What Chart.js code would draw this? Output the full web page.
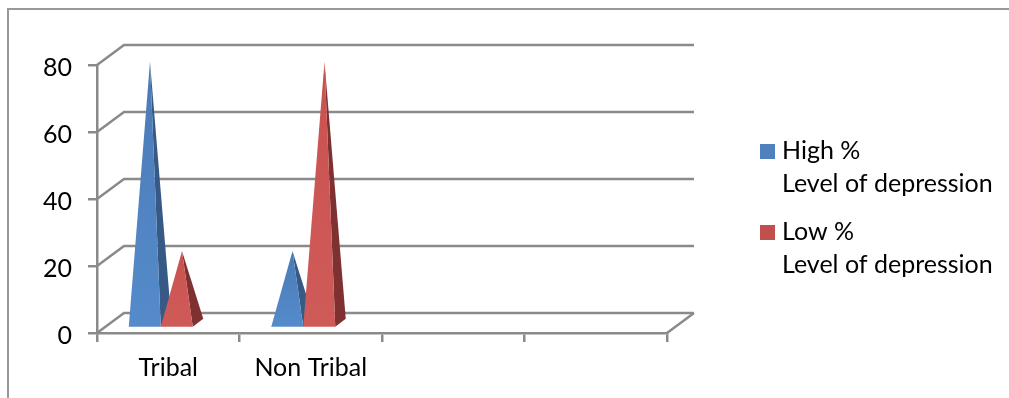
<!DOCTYPE html>
<html>
<head>
<meta charset="utf-8">
<script src="https://cdn.jsdelivr.net/npm/chart.js@4"></script>
<style>
  body { margin: 0; background: #fff; overflow: hidden; }
  #frame { position: absolute; left: 7px; top: 8px; right: 0; bottom: 0; border-left: 2px solid #999; border-top: 2px solid #999; }
  canvas { position: absolute; left: 0; top: 0; }
</style>
</head>
<body>
<div id="frame"></div>
<canvas id="myChart" width="1009" height="398"></canvas>
<script>
const categories = ['Tribal', 'Non Tribal', '', ''];
const yTicks = [0, 20, 40, 60, 80];
const highLabel = ['High %', 'Level of depression'];
const lowLabel = ['Low %', 'Level of depression'];
const highValues = [79.5, 23, null, null];
const lowValues = [23, 79.5, null, null];

const gridColor = '#8a8a8a';
const fontName = 'Lato, Carlito, sans-serif';

// the back wall of the 3d box sits up and right of the axes
const wallX = 27, wallY = 20;
// pyramids stand a little inside the floor
const baseX = -7.5, baseY = -5;
const sideX = 10.5, sideY = 8;

const faces = [
    { front: ['#4a7ab5', '#558bcb'], side: '#365a85' },
    { front: ['#c9524f', '#cf5b58'], side: '#7e3130' }
];

function drawWall(chart) {
    const ctx = chart.ctx;
    const xs = chart.scales.x, ys = chart.scales.y;
    ctx.save();
    ctx.strokeStyle = gridColor;
    ctx.lineWidth = 2.5;
    yTicks.forEach(v => {
        const y = ys.getPixelForValue(v);
        ctx.beginPath();
        ctx.moveTo(xs.left, y);
        ctx.lineTo(xs.left + wallX, y - wallY);
        ctx.lineTo(xs.right + wallX, y - wallY);
        ctx.stroke();
    });
    // right edge of the floor
    const y0 = ys.getPixelForValue(0);
    ctx.beginPath();
    ctx.moveTo(xs.right, y0);
    ctx.lineTo(xs.right + wallX, y0 - wallY);
    ctx.stroke();
    ctx.restore();
}

function drawPyramid(ctx, bar, face) {
    const half = bar.width / 2;
    const left = bar.x - half + baseX, right = bar.x + half + baseX;
    const bottom = bar.base + baseY;
    const tipX = (left + right) / 2 + sideX / 2;
    const tipY = bar.y + baseY;

    ctx.fillStyle = face.side;
    ctx.beginPath();
    ctx.moveTo(right, bottom);
    ctx.lineTo(right + sideX, bottom - sideY);
    ctx.lineTo(tipX, tipY);
    ctx.closePath();
    ctx.fill();

    const grad = ctx.createLinearGradient(0, tipY, 0, bottom);
    grad.addColorStop(0, face.front[0]);
    grad.addColorStop(1, face.front[1]);
    ctx.fillStyle = grad;
    ctx.beginPath();
    ctx.moveTo(left, bottom);
    ctx.lineTo(right, bottom);
    ctx.lineTo(tipX, tipY);
    ctx.closePath();
    ctx.fill();
}

// legend text sits closer to its square than the library's gap, so the square is an image
function legendItems(chart) {
    const items = Chart.defaults.plugins.legend.labels.generateLabels(chart);
    items.forEach(item => {
        const box = document.createElement('canvas');
        box.width = box.height = 15;
        const g = box.getContext('2d');
        g.fillStyle = item.fillStyle;
        g.fillRect(0, 0, 15, 15);
        item.pointStyle = box;
    });
    return items;
}

const pyramidPlugin = {
    id: 'pyramids',
    // legend width is capped by the layout, so put it where it belongs afterwards
    afterLayout(chart) {
        const lg = chart.legend;
        lg.left = 750.5;
        lg.right = 1009;
        lg.width = lg.right - lg.left;
        lg.top = 123.5;
        lg.bottom = 305;
        lg.height = lg.bottom - lg.top;
        lg.adjustHitBoxes();
    },
    beforeDatasetsDraw(chart) {
        drawWall(chart);
        chart.data.datasets.forEach((ds, i) => {
            chart.getDatasetMeta(i).data.forEach((bar, j) => {
                if (ds.data[j] !== null) drawPyramid(chart.ctx, bar, faces[i]);
            });
        });
        return false;
    }
};

new Chart(document.getElementById('myChart'), {
    type: 'bar',
    plugins: [pyramidPlugin],
    data: {
        labels: categories,
        datasets: [
            { label: highLabel, data: highValues, backgroundColor: '#4f81bd', barThickness: 32 },
            { label: lowLabel, data: lowValues, backgroundColor: '#c0504d', barThickness: 32 }
        ]
    },
    options: {
        responsive: false,
        animation: false,
        layout: { padding: { left: 0, top: 65, right: 332, bottom: 0 } },
        plugins: {
            tooltip: { enabled: false },
            legend: {
                position: 'right',
                align: 'start',
                maxWidth: 10,
                labels: {
                    color: '#000',
                    usePointStyle: true,
                    boxWidth: 4,
                    padding: 15,
                    generateLabels: legendItems,
                    font: { family: fontName, size: 25, lineHeight: 1.32 }
                }
            }
        },
        scales: {
            x: {
                grid: { color: gridColor, lineWidth: 2.5, drawOnChartArea: false, tickLength: 9 },
                border: { color: gridColor, width: 2.5 },
                ticks: { color: '#000', padding: 11, maxRotation: 0, autoSkip: false, font: { family: fontName, size: 25 } },
                afterFit(s) { s.height = 65; }
            },
            y: {
                min: 0,
                max: 80,
                afterBuildTicks(s) { s.ticks = yTicks.map(v => ({ value: v })); },
                grid: { color: gridColor, lineWidth: 2.5, drawOnChartArea: false, tickLength: 9 },
                border: { color: gridColor, width: 2.5 },
                ticks: { color: '#000', padding: 16, labelOffset: 2.5, font: { family: fontName, size: 25 } },
                afterFit(s) { s.width = 97; }
            }
        }
    }
});
</script>
</body>
</html>
